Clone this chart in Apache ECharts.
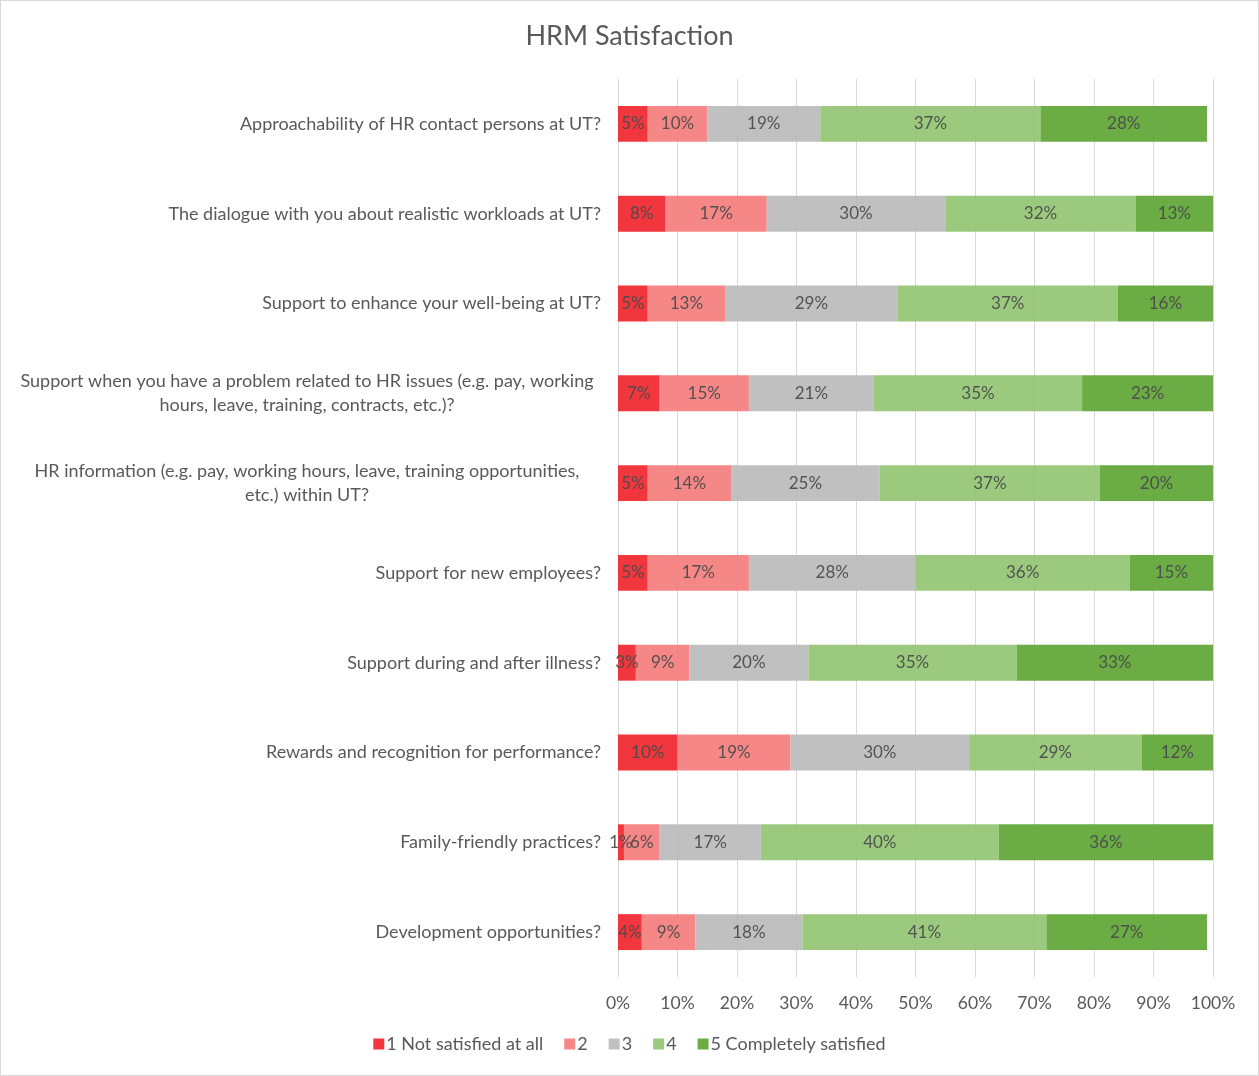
<!DOCTYPE html>
<html>
<head>
<meta charset="utf-8">
<title>HRM Satisfaction</title>
<script src="https://cdn.jsdelivr.net/npm/echarts@6/dist/echarts.min.js"></script>
<style>
  html, body { margin: 0; padding: 0; background: #fff; }
  #chart { width: 1259px; height: 1076px; box-sizing: border-box; border: 1px solid #d9d9d9; }
</style>
</head>
<body>
<div id="chart"></div>
<script>
// Survey questions, top to bottom
const categories = [
  'Approachability of HR contact persons at UT?',
  'The dialogue with you about realistic workloads at UT?',
  'Support to enhance your well-being at UT?',
  'Support when you have a problem related to HR issues (e.g. pay, working\nhours, leave, training, contracts, etc.)?',
  'HR information (e.g. pay, working hours, leave, training opportunities,\netc.) within UT?',
  'Support for new employees?',
  'Support during and after illness?',
  'Rewards and recognition for performance?',
  'Family-friendly practices?',
  'Development opportunities?'
];

// Share of answers (%) per satisfaction level
const notSatisfied = [5, 8, 5, 7, 5, 5, 3, 10, 1, 4];
const level2 = [10, 17, 13, 15, 14, 17, 9, 19, 6, 9];
const level3 = [19, 30, 29, 21, 25, 28, 20, 30, 17, 18];
const level4 = [37, 32, 37, 35, 37, 36, 35, 29, 40, 41];
const completelySatisfied = [28, 13, 16, 23, 20, 15, 33, 12, 36, 27];

const seriesNames = ['1 Not satisfied at all', '2', '3', '4', '5 Completely satisfied'];
const seriesColors = ['#f0262c', '#f47d7d', '#bbbbbb', '#93c673', '#5ea535'];
const seriesValues = [notSatisfied, level2, level3, level4, completelySatisfied];

const xTicks = [0, 10, 20, 30, 40, 50, 60, 70, 80, 90, 100];

const FONT = 'Lato, "Open Sans", sans-serif';
const TEXT = '#595959';

const chart = echarts.init(document.getElementById('chart'), null, { renderer: 'canvas' });

chart.setOption({
  backgroundColor: '#ffffff',
  animation: false,
  title: {
    text: 'HRM Satisfaction',
    left: 'center',
    top: 17,
    textStyle: { fontFamily: FONT, fontSize: 27, fontWeight: 'normal', color: TEXT }
  },
  legend: {
    bottom: 17,
    left: 'center',
    icon: 'rect',
    itemWidth: 11,
    itemHeight: 11,
    itemGap: 21,
    textStyle: { fontFamily: FONT, fontSize: 18, color: TEXT, padding: [0, 0, 0, -3] },
    data: seriesNames
  },
  grid: { left: 617, right: 45, top: 78, bottom: 98 },
  xAxis: {
    type: 'value',
    min: 0,
    max: xTicks[xTicks.length - 1],
    interval: xTicks[1] - xTicks[0],
    axisLine: { show: false },
    axisTick: { show: false },
    splitLine: { show: true, lineStyle: { color: '#d9d9d9', width: 1 } },
    axisLabel: {
      formatter: v => v + '%',
      fontFamily: FONT,
      fontSize: 17.5,
      color: TEXT,
      margin: 17
    }
  },
  yAxis: {
    type: 'category',
    inverse: true,
    data: categories,
    axisLine: { show: false },
    axisTick: { show: false },
    axisLabel: {
      fontFamily: FONT,
      fontSize: 18,
      color: TEXT,
      margin: 17,
      lineHeight: 24,
      formatter: name => {
        if (name.indexOf('\n') < 0) return name;
        return name.split('\n').map(l => '{c|' + l + '}').join('\n');
      },
      rich: {
        c: { width: 588, align: 'center', fontFamily: FONT, fontSize: 18, color: TEXT, lineHeight: 24 }
      }
    }
  },
  series: seriesValues.map((vals, i) => ({
    name: seriesNames[i],
    type: 'bar',
    stack: 'total',
    barWidth: '40%',
    data: vals,
    itemStyle: { color: seriesColors[i], opacity: 0.92 },
    label: {
      show: true,
      position: 'inside',
      formatter: p => p.value + '%',
      fontFamily: FONT,
      fontSize: 17,
      color: '#4a4a4a'
    }
  }))
});
</script>
</body>
</html>
